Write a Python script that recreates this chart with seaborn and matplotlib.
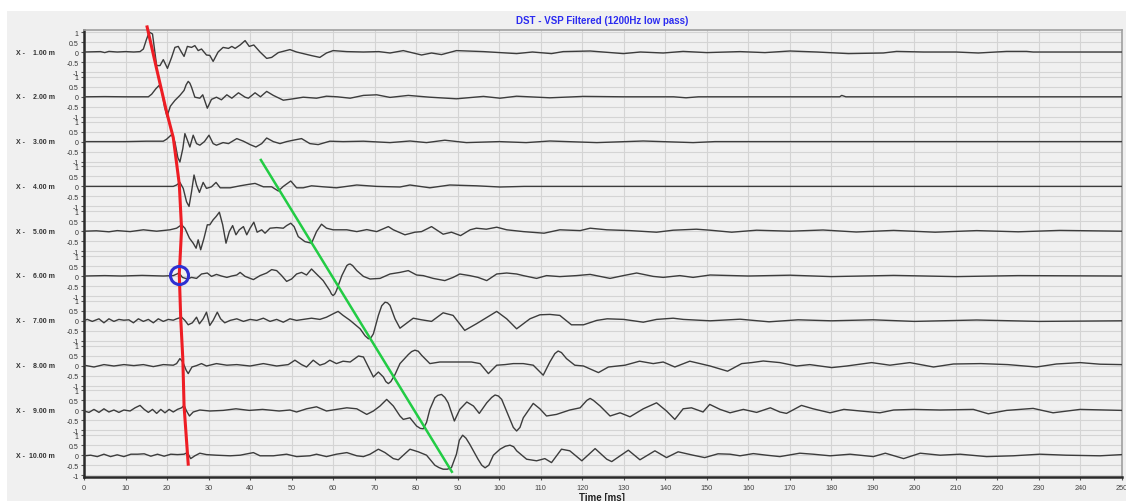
import numpy as np
import pandas as pd
import matplotlib
matplotlib.use("Agg")
import matplotlib.pyplot as plt
from matplotlib.patches import Rectangle
import seaborn as sns

# ---------------- data (time [ms], amplitude) ----------------
trace_names = ["1.00", "2.00", "3.00", "4.00", "5.00", "6.00", "7.00", "8.00", "9.00", "10.00"]

trace1 = [(0,0),(4,0.02),(5,-0.03),(6,0.03),(8,0),(10,0.02),(12,0),(13.5,0.02),(14.3,0.15),(15.0,0.6),(15.7,1.0),(16.5,0.9),(17.5,-0.68),(18.3,-0.68),(19.1,-0.38),(20.1,-0.82),(21.1,-0.27),(21.9,0.23),(22.7,0.28),(23.5,-0.02),(24.1,-0.22),(24.9,0.28),(25.9,0.23),(26.7,0.32),(27.5,0.07),(28.3,0.15),(29.5,-0.15),(30.3,-0.17),(31.1,-0.47),(32.3,0),(33.5,0.23),(34.8,0.18),(35.6,0.28),(36.4,0.18),(37.6,0.35),(38.8,0.57),(39.8,0.28),(40.9,0.35),(42.4,0),(44.0,-0.32),(45.2,-0.27),(46.8,-0.03),(49.6,0.12),(51.2,0),(53.2,-0.1),(54.8,-0.18),(56.8,-0.27),(58.4,-0.05),(60.0,0.07),(63.3,0.02),(67.3,0),(71,0.02),(73.7,-0.05),(76.9,0.07),(81.3,-0.15),(83.7,-0.05),(86.1,-0.13),(89.7,0.07),(96.2,0.02),(104.2,-0.08),(108,0),(112.6,-0.08),(115.4,0.02),(121.9,0.05),(129.9,-0.08),(134,0),(139.5,-0.05),(144.3,0.03),(150,-0.03),(158,0.02),(164,-0.03),(170,0.05),(176.5,0),(184.1,-0.08),(192.5,-0.05),(195.7,0.03),(202.2,0),(210,0),(215.4,-0.05),(222.2,0.03),(227,0.03),(228.6,0),(250,0)]

trace2 = [(0,0),(5,0.01),(10,0),(15.5,0),(16.3,0.13),(17.3,0.4),(18.1,0.57),(18.7,0.3),(19.4,-0.5),(20.0,-0.98),(20.8,-0.47),(21.9,-0.18),(23.1,0.07),(24.1,0.32),(24.6,0.6),(25.1,0.77),(25.5,0.68),(25.9,0.48),(26.7,-0.02),(27.9,-0.07),(28.6,0.1),(29.7,-0.57),(30.7,-0.13),(31.9,-0.02),(33.1,-0.15),(34.4,0.1),(35.6,-0.07),(37.2,0.2),(38.8,-0.02),(39.6,-0.07),(41.2,0.2),(42.5,0),(44.0,0.27),(45.6,0.07),(48.0,-0.17),(50.4,-0.1),(52.8,-0.02),(56,-0.07),(58.4,0.03),(61,0),(64.1,-0.07),(67.3,0.07),(70.5,0.1),(73.7,-0.03),(78.1,0.07),(83.3,-0.02),(89.7,-0.1),(96.2,0.02),(100.2,-0.07),(104.2,0.03),(112.2,-0.05),(120.3,0.02),(130,0),(142,0),(145,-0.05),(148,0),(182,0),(182.5,0.07),(183.5,0),(250,0)]

trace3 = [(0,0),(10,0),(15,0.02),(19.1,0.02),(19.9,0.12),(21.1,0.35),(21.9,-0.02),(22.6,-0.8),(23.1,-1.02),(23.8,-0.35),(24.3,0.4),(24.9,0.07),(25.5,-0.27),(26.3,0.32),(27.1,-0.1),(27.9,-0.18),(29.0,0),(30.1,0.32),(31.1,-0.1),(31.9,-0.18),(33.5,-0.05),(34.8,-0.1),(36.8,0.15),(38.4,0.02),(40.0,-0.15),(41.4,-0.27),(42.8,-0.1),(44.0,0.18),(45.6,0),(47.2,-0.1),(48.8,0),(50.4,0.07),(52.4,0.15),(54.4,-0.1),(56.4,-0.15),(59.2,0.02),(62.4,0),(67.3,0.02),(73.7,-0.05),(78.5,0.03),(82.5,-0.05),(86.9,0.07),(92.1,-0.05),(100,0),(106.5,-0.05),(112.2,0.03),(123.5,-0.05),(134.7,0.03),(146.7,-0.05),(152,0),(250,0)]

trace4 = [(0,0),(21.5,0),(22.3,0.07),(23.1,0.2),(23.9,-0.1),(24.7,-0.77),(25.3,-1.0),(25.9,-0.27),(26.5,0.57),(27.1,0.07),(27.8,-0.3),(28.7,0.2),(29.5,-0.1),(30.7,-0.02),(31.8,0.2),(32.8,-0.07),(35.2,-0.07),(37.6,0.03),(39.6,0.1),(41.2,0.15),(43.2,-0.02),(45.2,-0.02),(46.8,-0.23),(48.0,0),(49.8,0.27),(51.2,-0.07),(52.8,-0.07),(54.8,0.03),(57.6,-0.02),(60.8,-0.07),(65.7,0.07),(70.5,0),(76.1,-0.03),(78.5,0.07),(83.3,-0.07),(88.1,0.07),(94.5,0.03),(100.2,-0.03),(106,0),(250,0)]

trace5 = [(0,0),(3,0.02),(6,-0.03),(8,0.03),(11.1,-0.02),(14.3,0.07),(17.5,0),(20.7,0.07),(22.3,0.15),(23.5,0.32),(24.3,0.15),(25.4,-0.35),(26.3,-0.6),(27.0,-0.85),(27.5,-0.43),(28.1,-0.93),(28.9,-0.35),(29.7,0.32),(30.3,0.32),(31.1,0.57),(31.8,0.73),(32.6,0.95),(33.4,0.32),(34.2,-0.6),(35.0,-0.02),(35.8,0.28),(36.6,-0.18),(37.4,0.07),(38.4,0.23),(39.2,-0.18),(40.0,0.15),(40.9,0.45),(41.7,-0.05),(42.8,0.07),(43.6,-0.1),(44.8,0.15),(46.4,0.18),(48.0,0.15),(48.8,0.28),(49.8,0.4),(50.6,0.23),(51.6,-0.27),(53.2,-0.52),(54.8,-0.6),(56.0,-0.02),(57.2,0.35),(58.4,0.15),(60.0,0.07),(63.3,0.07),(65.7,-0.02),(68.1,0.08),(70.5,-0.02),(73.3,0.23),(74.5,0.07),(77.3,-0.18),(79.7,-0.05),(81.3,-0.02),(83.7,0.23),(86.5,-0.15),(88.5,-0.05),(90.7,-0.22),(93.0,0.07),(94.5,0.15),(96.9,0.1),(99.4,0.2),(101.8,0.07),(105.8,-0.02),(110.8,-0.1),(114.6,0.07),(119.5,0.03),(121.9,0.15),(125.9,0.07),(131.5,0.03),(137.9,-0.05),(141.9,0.05),(147.5,0.1),(150.8,0.05),(156,-0.05),(162,0.05),(170,0),(178,0.06),(186,-0.04),(195,0.04),(205,-0.05),(215,0.03),(225,-0.03),(235,0.04),(250,0)]

trace6 = [(0,0),(5,0.02),(9,0),(14,0.03),(19.1,0),(21.5,0.02),(22.9,0.15),(23.7,-0.07),(24.9,-0.15),(25.9,-0.07),(27.1,-0.12),(28.3,0.1),(29.7,0.15),(30.7,-0.02),(31.9,0.08),(33.1,0),(34.4,-0.07),(35.6,0),(36.8,0.05),(37.6,0.18),(38.8,-0.02),(40.8,-0.18),(42.4,0.02),(44.0,0.15),(45.2,0.32),(46.4,0.27),(47.6,0.02),(48.8,-0.27),(50.0,-0.15),(51.2,0.1),(52.4,0.18),(53.6,0.05),(54.8,0.35),(56.0,0.1),(57.6,-0.23),(59.2,-0.73),(59.6,-0.9),(60.0,-0.98),(60.4,-0.9),(60.8,-0.73),(62.1,0.02),(63.3,0.52),(63.7,0.58),(64.1,0.6),(64.7,0.52),(65.7,0.27),(67.3,-0.02),(68.9,-0.15),(71.3,-0.12),(73.7,0.1),(76.1,0.18),(78.1,0.27),(80.1,0.05),(81.7,0.02),(84.1,-0.12),(86.9,-0.23),(88.9,-0.07),(90.5,0.1),(92.9,0.02),(94.9,-0.07),(97.0,-0.23),(99.4,0.1),(101.8,0.15),(104.2,0.1),(105.8,0.02),(109.0,-0.12),(111.4,0.02),(114.6,-0.03),(118.6,0.02),(121.9,0.08),(126.7,-0.12),(129.9,0.02),(133.1,0.15),(137.1,-0.02),(139.5,-0.07),(143.5,0.02),(146.7,-0.07),(150.8,0.05),(160,0),(170,0.04),(180,-0.03),(195,0.03),(210,-0.03),(225,0.02),(250,0)]

trace7 = [(0,0.02),(0.8,0.07),(2.0,-0.03),(3.6,0.1),(4.8,-0.1),(6.0,0.1),(7.2,-0.03),(8.4,0.07),(9.6,0.03),(10.8,0.05),(11.9,-0.1),(13.1,0.1),(14.3,-0.03),(15.5,0.07),(16.7,-0.1),(17.9,0.1),(19.1,-0.03),(20.3,0.07),(21.5,0.03),(22.3,0.1),(23.5,0.18),(24.3,0.02),(25.1,-0.2),(26.1,-0.1),(27.1,0.18),(27.8,-0.15),(28.7,0.1),(29.5,0.43),(30.3,-0.23),(31.1,0.02),(32.1,0.43),(32.9,0.1),(33.9,-0.1),(35.2,0.02),(36.8,0.1),(38.4,-0.03),(40.0,0.07),(41.6,0.02),(43.2,0.13),(44.8,-0.03),(46.4,0.07),(48.0,-0.07),(49.6,0.1),(51.2,0.02),(52.8,0.07),(54.8,0.13),(56.8,0.07),(58.4,0.18),(60.0,0.35),(61.2,0.47),(62.4,0.27),(64.1,0.02),(66.5,-0.4),(67.7,-0.75),(68.5,-0.9),(69.1,-0.85),(69.7,-0.65),(70.9,0.27),(71.7,0.75),(72.5,0.93),(73.1,0.9),(73.7,0.77),(74.9,0.1),(76.1,-0.37),(79.3,0.13),(81.3,0.05),(83.7,-0.03),(86.5,0.4),(88.9,0.27),(91.7,-0.48),(94.5,-0.15),(99.4,0.47),(101.8,0.1),(104.2,-0.4),(107.4,0.1),(109.8,0.3),(112.2,0.32),(114.6,0.27),(117.4,-0.2),(120.3,-0.2),(123.5,0.02),(126.0,0.1),(130.0,0.07),(134.7,-0.07),(137.9,0.07),(141.9,0.13),(144.3,0.07),(150.8,0),(158,0.08),(165,-0.05),(172,0.05),(180,0),(190,0.05),(200,-0.03),(215,0.04),(230,-0.03),(250,0)]

trace8 = [(0,0.02),(2.4,-0.07),(4.8,0.05),(7.2,-0.02),(9.6,0.05),(12.0,0),(14.3,0.05),(16.7,-0.05),(19.1,0.05),(21.5,0.02),(22.3,0.1),(23.1,0.35),(23.8,0.18),(24.6,-0.23),(25.1,-0.4),(26.0,-0.07),(27.1,0),(28.3,0.1),(29.5,-0.02),(31.9,0.1),(34.4,0.02),(36.8,0.05),(40.0,-0.02),(43.2,0.1),(46.4,-0.02),(49.2,0.05),(50.8,0.27),(52.4,0.05),(53.6,-0.07),(55.2,0.27),(56.8,0.02),(58.0,0.1),(59.2,0.27),(60.8,0.1),(62.4,0.22),(64.1,0.18),(66.1,0.48),(67.3,0.43),(68.5,-0.07),(69.7,-0.57),(70.9,-0.32),(72.1,-0.57),(72.7,-0.8),(73.3,-0.9),(73.9,-0.8),(74.9,-0.45),(76.1,0.1),(78.1,0.55),(78.9,0.7),(79.7,0.77),(80.5,0.72),(81.3,0.52),(83.3,0.1),(85.7,0.18),(88.1,0.18),(90.5,0.18),(93.3,0.18),(95.4,0.1),(97.4,-0.4),(99.4,0.02),(101.4,0.05),(103.4,0.1),(105.8,0.1),(108.2,0.02),(110.6,-0.48),(112.2,0.18),(113.4,0.6),(114.2,0.73),(115.0,0.65),(116.2,0.35),(118.2,0.02),(120.3,-0.02),(123.9,-0.35),(126.3,-0.07),(130.3,0.02),(133.8,0.22),(137.1,0.1),(139.5,0.18),(142.3,-0.07),(145.9,0.22),(150.8,-0.02),(155,-0.28),(158.4,0.1),(160.8,0.15),(163.6,0.23),(167.6,0.15),(171.6,-0.02),(174.8,0.05),(180.1,-0.1),(183.7,-0.02),(189.7,0.15),(194.1,0.02),(198.9,0.15),(204.6,-0.07),(209.4,0.08),(216,0.1),(222.5,0.05),(229.4,-0.07),(234.2,0.08),(239.9,0.15),(244.7,0.07),(250,0.05)]

trace9 = [(0,-0.03),(1.2,-0.1),(2.4,0.05),(3.6,-0.1),(4.8,0.08),(6.0,-0.08),(7.2,0.02),(8.4,-0.1),(9.6,0.02),(11.1,-0.03),(12.3,0.13),(13.5,0.25),(14.5,0.05),(15.5,-0.1),(16.5,0.05),(17.5,-0.15),(18.5,0.05),(19.5,-0.12),(20.5,0.05),(21.5,-0.08),(22.5,0.05),(23.5,0.13),(24.1,0.25),(24.7,-0.03),(25.4,-0.28),(26.3,-0.08),(27.9,0.02),(30.3,-0.03),(33.5,0),(36.6,0.08),(39.8,0),(43.0,0.05),(47.0,-0.03),(49.6,0.02),(51.2,-0.08),(53.6,0.08),(56.0,0.18),(58.4,-0.03),(60.8,0.05),(63.3,0.13),(65.7,0.08),(68.1,-0.2),(69.7,-0.03),(71.3,0.22),(72.9,0.55),(74.5,0.22),(76.1,-0.28),(76.9,-0.45),(78.5,-0.37),(80.1,-0.78),(81.0,-0.9),(81.7,-0.92),(82.5,-0.6),(83.3,0.05),(84.5,0.63),(85.2,0.75),(86.1,0.8),(86.9,0.65),(87.7,0.38),(89.2,-0.53),(90.5,0.05),(92.2,0.42),(93.8,0.22),(95.2,-0.15),(97.0,0.38),(98.2,0.65),(99.0,0.77),(99.8,0.72),(100.6,0.55),(102.6,-0.45),(103.4,-0.85),(104.2,-1.03),(105.0,-0.85),(105.8,-0.37),(108.2,0.35),(109.8,0.08),(111.4,-0.28),(113.8,-0.2),(117.0,0.02),(119.5,0.13),(121.1,0.5),(121.9,0.6),(122.7,0.5),(124.3,0.22),(126.7,-0.28),(129.1,-0.12),(131.5,-0.32),(134.7,0.08),(137.9,0.38),(140.3,-0.03),(142.3,-0.45),(144.3,0.08),(146.3,0.13),(149.1,-0.08),(150.7,0.3),(153.2,0.05),(155.6,-0.12),(158.8,0.05),(162.0,-0.1),(165.3,0.13),(167.6,-0.08),(169.2,-0.15),(172.8,0.25),(175.6,0.08),(179.7,-0.12),(183.0,0.05),(187.0,-0.03),(191.7,-0.12),(195.0,0.02),(199.8,0.05),(206.2,0.02),(214.2,0.05),(217.8,-0.17),(222.2,0),(228.6,0.1),(233.4,-0.12),(239.9,0.05),(250,0)]

trace10 = [(0,-0.03),(1.6,0),(3.2,-0.07),(4.8,0.05),(6.4,-0.07),(8.0,0.02),(9.6,-0.07),(11.3,0.05),(12.9,0.05),(14.5,0.07),(16.1,-0.05),(17.7,0.05),(19.3,-0.05),(20.9,0.05),(22.5,0.03),(24.1,0.05),(24.9,0.13),(25.7,-0.17),(26.7,-0.03),(27.9,0.1),(29.5,0.03),(31.9,0),(35.2,-0.03),(37.6,0),(40.8,0.13),(42.4,-0.03),(45.6,-0.03),(48.8,0.05),(51.2,-0.07),(54.4,-0.03),(56.0,0.05),(58.4,-0.07),(60.8,0.05),(63.3,0.13),(65.7,-0.03),(67.3,-0.07),(68.9,0.05),(70.9,0.3),(72.5,0.13),(74.5,-0.17),(75.7,-0.23),(78.5,0.3),(80.5,0.17),(82.5,0),(84.5,-0.5),(85.5,-0.62),(86.5,-0.7),(87.5,-0.7),(88.5,-0.62),(89.7,0.05),(90.4,0.75),(91.2,1.0),(92.0,0.85),(92.9,0.55),(94.9,-0.2),(95.8,-0.5),(96.6,-0.63),(97.5,-0.5),(98.6,0),(100.2,0.3),(101.5,0.45),(102.6,0.5),(103.5,0.42),(104.2,0.22),(106.6,-0.2),(109.0,-0.28),(111.0,-0.17),(112.6,-0.37),(115.0,0.3),(117.0,0.22),(119.9,-0.28),(123.1,0.33),(125.9,-0.2),(127.1,-0.32),(131.1,0.25),(133.9,-0.23),(137.5,0.22),(140.3,-0.12),(143.1,0.17),(146.7,0),(149.5,-0.12),(152.7,0.07),(155.6,0.05),(158.0,-0.03),(161.2,0.08),(164.4,0),(167.6,-0.07),(172.4,0.1),(175.6,0.05),(179.7,-0.03),(184.5,0.05),(190.1,-0.07),(193.0,0.1),(197.4,-0.17),(201.4,0.1),(206.2,0),(211.0,0.05),(217.4,-0.07),(223.8,-0.03),(230.2,0.05),(236.6,0),(244.7,-0.03),(250,0.03)]

traces = [trace1, trace2, trace3, trace4, trace5, trace6, trace7, trace8, trace9, trace10]

# first-arrival pick line (red): time [ms], position in trace units (1 = first trace)
red_pick_time = [15.2, 17.5, 19.9, 21.5, 22.95, 23.5, 22.95, 23.3, 23.8, 24.1, 25.1]
red_pick_pos = [0.44, 1.38, 2.34, 2.91, 3.95, 4.95, 5.96, 6.96, 7.85, 8.90, 10.20]
# second event line (green)
green_time = [42.6, 88.6]
green_pos = [3.41, 10.37]
# highlighted pick (blue circle)
circle_time = [22.95]
circle_pos = [5.98]

amp_ticks = [1, 0.5, 0, -0.5, -1]
amp_tick_labels = ["1", "0.5", "0", "-0.5", "-1"]
time_ticks = list(range(0, 251, 10))

# ---------------- layout ----------------
W, H = 1126, 502
SP = 2.24  # vertical spacing between traces (amplitude units)

def lev(pos):
    return -(np.asarray(pos, dtype=float) - 1.0) * SP

plt.rcParams["font.family"] = ["Liberation Sans", "DejaVu Sans"]
fig = plt.figure(figsize=(W / 100, H / 100), dpi=100)
fig.patch.set_facecolor("white")
fig.patches.append(Rectangle((7 / W, 0), 1, 1 - 12 / H, transform=fig.transFigure,
                             facecolor="#f0f0f0", edgecolor="none", zorder=-10))

ax = fig.add_axes([84 / W, 1 - 478 / H, (1122 - 84) / W, (478 - 31) / H])
ax.set_facecolor("#f0f0f0")

rows = []
for k, tr in enumerate(traces):
    for t, a in tr:
        rows.append({"time": t, "level": -k * SP + a, "trace": k})
df = pd.DataFrame(rows)

sns.lineplot(data=df, x="time", y="level", units="trace", estimator=None, sort=False,
             color="#3c3c3c", lw=1.0, ax=ax, zorder=3)

red_df = pd.DataFrame({"time": red_pick_time, "level": lev(red_pick_pos)})
sns.lineplot(data=red_df, x="time", y="level", sort=False, estimator=None,
             color="#ee1d24", lw=2.2, ax=ax, zorder=5, clip_on=False)
green_df = pd.DataFrame({"time": green_time, "level": lev(green_pos)})
sns.lineplot(data=green_df, x="time", y="level", sort=False, estimator=None,
             color="#22cc44", lw=1.8, ax=ax, zorder=5)
ax.plot(circle_time, lev(circle_pos), marker="o", ms=13, mfc="none", mec="#2f2fd2",
        mew=2.2, ls="none", zorder=6)

yt, yl = [], []
for k in range(len(traces)):
    for v, l in zip(amp_ticks, amp_tick_labels):
        yt.append(-k * SP + v)
        yl.append(l)
ax.set_yticks(yt)
ax.set_yticklabels(yl, fontsize=5, color="#333333")
ax.set_xticks(time_ticks)
ax.set_xticklabels([str(t) for t in time_ticks], fontsize=5.3, color="#444444")
ax.tick_params(axis="y", length=2, pad=2, color="#555555")
ax.tick_params(axis="x", length=2, pad=3, color="#555555")
ax.set_xlim(0, 250)
ax.set_ylim(-21.25, 1.1)
ax.set_xlabel("")
ax.set_ylabel("")
ax.grid(True, color="#d4d4d4", lw=0.8)
ax.set_axisbelow(True)

for s in ["top", "right"]:
    ax.spines[s].set_color("#a0a0a0")
    ax.spines[s].set_linewidth(1.2)
for s in ["left", "bottom"]:
    ax.spines[s].set_color("#2a2a2a")
    ax.spines[s].set_linewidth(1.8)

ytr = ax.get_yaxis_transform()
for k, name in enumerate(trace_names):
    y = -k * SP
    ax.text((16 - 84) / 1038, y, "X -", transform=ytr, ha="left", va="center",
            fontsize=5.0, fontweight="bold", color="#333333")
    ax.text((55 - 84) / 1038, y, f"{name} m", transform=ytr, ha="right", va="center",
            fontsize=5.0, fontweight="bold", color="#333333")

fig.text(602 / W, 1 - 21 / H, "DST - VSP Filtered (1200Hz low pass)", ha="center",
         va="center", fontsize=7, fontweight="bold", color="#2b2bf0")
fig.text(602 / W, 1 - 498 / H, "Time [ms]", ha="center", va="center",
         fontsize=7, fontweight="bold", color="#222222")

fig.savefig("out.png", dpi=100, facecolor=fig.get_facecolor())
